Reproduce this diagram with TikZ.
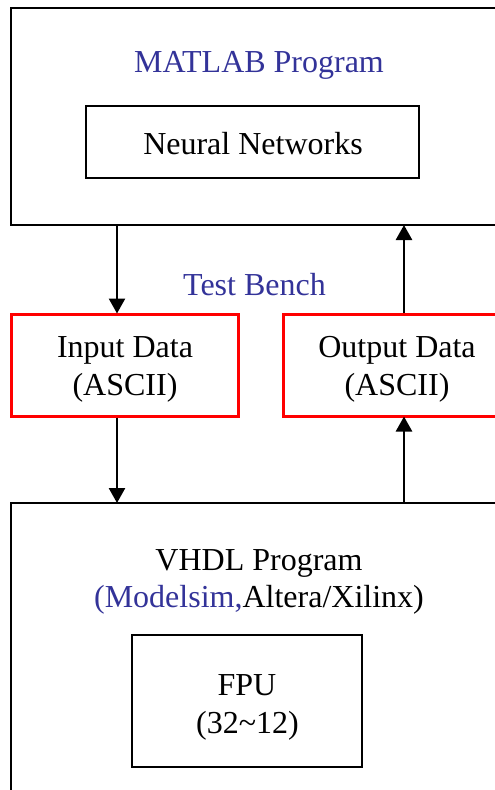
\documentclass[tikz,border=0pt]{standalone}
\usepackage{fontspec}
\setmainfont{Liberation Serif}
\usetikzlibrary{arrows.meta}
\definecolor{tbblue}{RGB}{51,51,153}
\definecolor{tbred}{RGB}{255,0,0}
\tikzset{
  blk/.style={draw=black, line width=2pt, minimum width=#1, inner sep=0pt},
  redbox/.style={draw=tbred, line width=3pt, inner sep=0pt},
  txt/.style={anchor=base, inner sep=0pt, font=\fontsize{32}{37}\selectfont},
  arr/.style={line width=2.6pt, -{Triangle[length=15pt,width=16pt]}, shorten >=-1pt}
}
\begin{document}
\begin{tikzpicture}[x=1pt,y=-1pt]
\useasboundingbox (0,0) rectangle (495,790);
\clip (0,0) rectangle (495,790);
\fill[white] (0,0) rectangle (495,790);
% boxes
\node[blk=509pt, minimum height=217pt] (top) at (265.5,116.5) {};
\node[blk=333pt, minimum height=72pt] (nn) at (252.5,142) {};
\node[redbox, minimum width=227pt, minimum height=102pt] (in) at (124.5,365) {};
\node[redbox, minimum width=257pt, minimum height=102pt] (out) at (411.5,365) {};
\node[blk=529pt, minimum height=317pt] (vhdl) at (275.5,661.5) {};
\node[blk=230pt, minimum height=132pt] (fpu) at (247,701) {};
% texts
\node[txt, text=tbblue] (tmat) at (259,72) {MATLAB Program};
\node[txt] (tnn) at (253,154) {Neural Networks};
\node[txt, text=tbblue] (ttb) at (254.5,295) {Test Bench};
\node[txt] (tin1) at (125,357) {Input Data};
\node[txt] (tin2) at (125,395) {(ASCII)};
\node[txt] (tout1) at (397,357) {Output Data};
\node[txt] (tout2) at (397,395) {(ASCII)};
\node[txt] (tv1) at (259,570) {VHDL Program};
\node[txt] (tv2) at (259,607) {\textcolor{tbblue}{(Modelsim,}Altera/Xilinx)};
\node[txt] (tf1) at (247,695) {FPU};
\node[txt] (tf2) at (247.5,733) {(32\textasciitilde12)};
% arrows
\coordinate (xl) at (117,0);
\coordinate (xr) at (404,0);
\draw[arr] (top.south -| xl) -- (in.north -| xl);
\draw[arr] (out.north -| xr) -- (top.south -| xr);
\draw[arr] (in.south -| xl) -- (vhdl.north -| xl);
\draw[arr] (vhdl.north -| xr) -- (out.south -| xr);
\end{tikzpicture}
\end{document}
